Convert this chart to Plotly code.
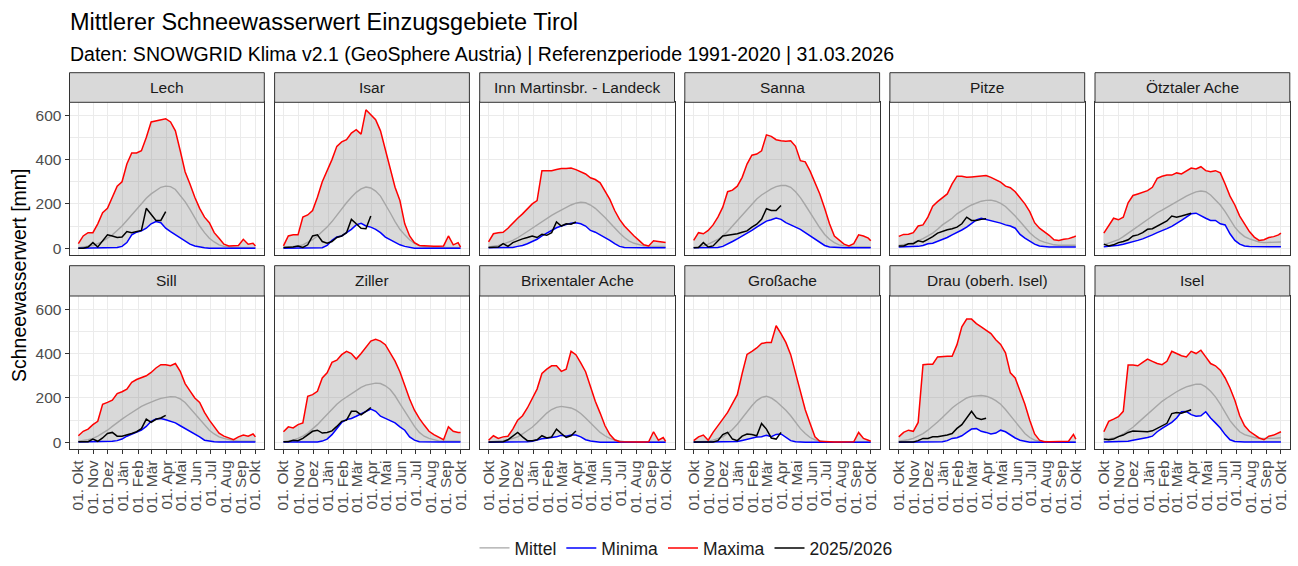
import datetime as dt
import plotly.graph_objects as go

# ---------------- data (mm, sampled every 10 days from 01.10.2025) ----------------
DAYS = list(range(0, 361, 10)) + [365]
CUR_DAYS = list(range(0, 181, 10))
MONTH_LABELS = ["01. Okt", "01. Nov", "01. Dez", "01. Jän", "01. Feb", "01. Mär", "01. Apr",
                "01. Mai", "01. Jun", "01. Jul", "01. Aug", "01. Sep", "01. Okt"]
PANEL_NAMES = ["Lech", "Isar", "Inn Martinsbr. - Landeck", "Sanna", "Pitze", "Ötztaler Ache",
               "Sill", "Ziller", "Brixentaler Ache", "Großache", "Drau (oberh. Isel)", "Isel"]
Y_TICKS = [0, 200, 400, 600]

LECH_MAX = [20,55,70,70,110,160,180,230,280,300,380,430,430,440,500,570,575,580,585,570,530,440,345,290,230,180,140,115,70,45,18,10,10,12,40,18,22,10]
LECH_MEAN = [2,5,8,12,20,30,45,60,80,100,125,150,175,200,225,245,262,275,280,278,265,240,210,175,135,100,70,45,28,15,8,5,3,3,3,3,3,2]
LECH_MIN = [0,0,0,0,0,0,0,0,3,8,25,60,72,78,90,110,120,115,90,75,60,45,30,18,10,5,2,0,0,0,0,0,0,0,0,0,0,0]
LECH_CUR = [0,0,5,25,5,30,60,55,48,50,75,70,75,80,180,155,125,125,165]

ISAR_MAX = [10,55,60,60,140,150,170,230,300,350,400,460,480,490,520,535,515,625,600,580,530,445,365,275,215,110,55,25,12,10,8,8,8,10,55,15,25,5]
ISAR_MEAN = [2,4,6,10,15,25,38,55,75,95,120,150,180,205,230,252,268,276,272,258,235,200,160,120,85,60,38,22,12,6,4,3,3,3,3,3,3,2]
ISAR_MIN = [0,0,0,0,0,0,0,0,2,12,35,50,55,70,85,105,112,100,95,85,70,50,38,25,15,8,3,0,0,0,0,0,0,0,0,0,0,0]
ISAR_CUR = [3,3,5,10,3,15,55,60,30,22,30,48,55,70,130,110,90,88,145]

INN_MAX = [28,65,70,72,90,115,135,155,180,200,215,350,350,350,355,360,360,362,355,345,335,318,310,295,260,220,170,130,100,75,55,35,15,10,33,30,28,25]
INN_MEAN = [5,8,12,18,25,35,47,60,75,90,105,120,135,148,160,172,185,195,203,207,205,195,180,160,138,115,90,68,48,32,22,15,10,8,8,8,8,8]
INN_MIN = [2,2,2,2,2,3,8,12,20,30,40,55,68,80,92,100,108,113,115,110,100,80,72,60,50,35,20,8,3,2,2,2,2,2,2,2,2,2]
INN_CUR = [3,3,5,20,8,25,35,42,48,55,48,63,58,70,118,100,110,108,118]

SANNA_MAX = [35,70,65,80,105,140,185,255,262,280,320,380,420,425,440,512,505,490,485,483,485,460,395,390,348,300,245,180,110,55,35,18,10,20,60,55,45,33]
SANNA_MEAN = [3,6,10,18,28,40,55,75,100,125,150,175,200,222,240,256,268,278,283,283,275,255,228,195,160,125,92,62,40,25,15,10,6,5,5,5,5,5]
SANNA_MIN = [2,2,2,2,2,3,8,18,30,42,55,65,80,95,110,122,128,136,130,115,105,95,85,70,55,40,27,12,5,3,2,2,2,2,2,2,2,2]
SANNA_CUR = [2,3,25,5,10,35,55,58,60,65,72,78,95,108,130,178,170,170,193]

PITZE_MAX = [53,62,63,70,100,105,140,190,210,228,245,290,325,325,320,322,325,325,328,320,310,298,280,273,255,230,200,165,115,90,75,58,38,35,40,43,50,55]
PITZE_MEAN = [12,15,20,25,33,43,55,68,85,105,120,135,155,170,183,195,205,212,216,217,212,202,188,168,145,120,95,70,50,35,27,20,15,13,13,13,13,13]
PITZE_MIN = [5,5,5,6,8,12,20,22,30,40,48,60,70,82,95,110,128,135,130,125,120,113,105,100,90,62,45,30,18,10,6,5,5,5,5,5,5,5]
PITZE_CUR = [10,10,20,20,33,28,40,52,68,76,83,88,95,110,140,125,125,130,133]

OETZ_MAX = [68,100,135,128,140,205,238,245,252,260,275,315,325,330,330,340,335,350,362,358,368,350,345,350,340,290,235,195,145,110,75,50,35,38,48,52,60,68]
OETZ_MEAN = [15,22,30,38,52,68,84,100,115,130,145,160,172,185,198,210,222,235,245,254,258,255,240,218,195,165,130,95,70,52,42,35,28,25,25,25,27,28]
OETZ_MIN = [6,8,10,13,18,23,30,35,42,50,60,70,78,88,98,110,125,140,155,158,145,135,125,125,110,105,65,35,18,10,7,6,6,6,6,6,6,6]
OETZ_CUR = [18,10,15,25,30,38,55,60,70,85,88,100,112,123,145,140,145,150,158]

SILL_MAX = [30,50,60,80,95,172,180,190,220,228,240,270,283,290,300,315,335,350,350,345,355,320,265,232,200,180,135,100,72,42,28,20,12,25,33,28,38,25]
SILL_MEAN = [5,8,12,18,28,42,55,72,90,105,120,135,150,162,172,182,190,198,203,206,205,196,180,155,125,100,75,55,38,25,18,12,8,6,6,6,6,6]
SILL_MIN = [2,2,2,2,2,3,3,5,8,15,28,38,45,55,72,95,105,108,102,95,88,75,63,52,40,25,10,5,3,2,2,2,2,2,2,2,2,2]
SILL_CUR = [3,3,3,15,5,20,40,45,28,28,33,40,48,62,105,90,104,110,122]

ZILLER_MAX = [48,70,65,80,88,207,215,230,290,313,360,370,395,410,400,375,400,430,456,464,456,440,400,366,318,258,195,145,108,78,50,35,22,12,70,50,45,45]
ZILLER_MEAN = [3,6,10,18,28,42,60,80,103,127,150,172,190,205,220,235,248,258,264,267,265,255,238,210,175,140,105,72,45,28,18,12,7,5,5,5,5,5]
ZILLER_MIN = [2,2,2,2,2,2,2,2,6,15,35,60,90,103,108,118,128,139,150,140,118,108,98,88,70,55,25,10,3,2,2,2,2,2,2,2,2,2]
ZILLER_CUR = [3,3,10,8,18,35,50,55,42,45,52,72,95,100,140,140,124,140,157]

BRIX_MAX = [10,30,18,25,28,60,100,120,155,200,240,310,330,345,345,320,330,410,395,358,318,252,185,132,75,35,12,3,2,2,2,2,2,3,48,10,22,5]
BRIX_MEAN = [2,3,5,8,12,18,25,38,52,68,88,110,132,148,158,162,160,155,145,130,110,88,65,45,30,18,10,5,3,2,2,2,2,2,2,2,2,2]
BRIX_MIN = [1,1,1,1,1,1,1,1,3,5,12,16,19,22,25,32,28,33,33,25,12,6,3,1,1,1,1,1,1,1,1,1,1,1,1,1,1,1]
BRIX_CUR = [2,2,2,3,12,30,45,25,8,8,12,30,20,25,60,40,22,30,51]

GROSS_MAX = [8,25,33,10,45,78,105,135,175,215,310,396,410,425,445,450,450,525,490,450,395,313,230,147,85,25,5,3,2,2,2,2,2,3,45,18,10,5]
GROSS_MEAN = [2,3,4,6,10,16,25,40,58,82,110,140,165,188,203,208,200,185,165,145,120,90,62,40,22,12,6,3,2,2,2,2,2,2,2,2,2,2]
GROSS_MIN = [1,1,1,1,1,1,1,1,1,4,9,15,20,24,26,32,26,36,38,22,8,3,1,1,1,1,1,1,1,1,1,1,1,1,1,1,1,1]
GROSS_CUR = [2,2,2,2,2,8,35,45,15,8,28,38,36,30,85,60,20,15,45]

DRAU_MAX = [25,45,55,50,90,350,352,352,385,388,388,388,440,520,555,555,535,520,505,490,462,441,403,313,290,232,172,100,38,10,3,3,3,3,3,5,36,15]
DRAU_MEAN = [5,8,12,18,28,40,55,72,92,112,135,155,172,188,200,207,210,211,208,200,188,172,148,120,92,65,40,22,10,5,3,2,2,2,2,2,2,2]
DRAU_MIN = [1,1,1,1,1,1,1,1,1,3,8,18,21,30,45,60,62,50,45,38,42,55,48,33,20,10,4,1,1,1,1,1,1,1,1,1,1,1]
DRAU_CUR = [2,2,2,2,8,18,18,25,26,28,33,40,63,80,108,140,110,103,109]

ISEL_MAX = [48,95,105,116,140,348,348,345,360,375,365,355,350,365,410,400,390,385,410,400,415,385,355,345,325,290,245,190,120,75,50,35,20,12,28,33,42,48]
ISEL_MEAN = [10,15,20,26,38,52,68,88,108,125,145,165,185,200,215,228,240,250,256,262,262,250,230,205,172,135,98,72,48,35,27,22,19,18,18,18,20,21]
ISEL_MIN = [2,2,2,2,3,5,10,13,18,22,28,48,63,75,90,110,138,139,125,118,120,138,110,88,65,35,12,4,2,2,2,2,2,2,2,2,2,2]
ISEL_CUR = [15,12,15,26,33,45,51,51,49,48,52,63,75,86,130,135,131,139,147]

PANELS = [
    (LECH_MIN, LECH_MEAN, LECH_MAX, LECH_CUR),
    (ISAR_MIN, ISAR_MEAN, ISAR_MAX, ISAR_CUR),
    (INN_MIN, INN_MEAN, INN_MAX, INN_CUR),
    (SANNA_MIN, SANNA_MEAN, SANNA_MAX, SANNA_CUR),
    (PITZE_MIN, PITZE_MEAN, PITZE_MAX, PITZE_CUR),
    (OETZ_MIN, OETZ_MEAN, OETZ_MAX, OETZ_CUR),
    (SILL_MIN, SILL_MEAN, SILL_MAX, SILL_CUR),
    (ZILLER_MIN, ZILLER_MEAN, ZILLER_MAX, ZILLER_CUR),
    (BRIX_MIN, BRIX_MEAN, BRIX_MAX, BRIX_CUR),
    (GROSS_MIN, GROSS_MEAN, GROSS_MAX, GROSS_CUR),
    (DRAU_MIN, DRAU_MEAN, DRAU_MAX, DRAU_CUR),
    (ISEL_MIN, ISEL_MEAN, ISEL_MAX, ISEL_CUR),
]

# ---------------- layout geometry ----------------
W, H = 1298, 566
FONT = "Liberation Sans, Arial, sans-serif"
START = dt.datetime(2025, 10, 1)
END = dt.datetime(2026, 10, 1)
PAD = dt.timedelta(days=18.25)
X_RANGE = [(START - PAD).isoformat(), (END + PAD).isoformat()]
Y_RANGE = [-31, 659]
TICK_DATES = [dt.datetime(2025 + (9 + m) // 12, (9 + m) % 12 + 1, 1).isoformat() for m in range(13)]

PX_L0, PW, STEP = 69.5, 194.8, 205.1
ROWS = [(72.7, 102.3, 255.0), (265.7, 296.0, 449.3)]  # strip top, plot top, plot bottom


def fx(p):
    return p / W


def fy(p):
    return 1 - p / H


def to_dates(days):
    return [(START + dt.timedelta(days=d)).isoformat() for d in days]


dates = to_dates(DAYS)
cur_dates = to_dates(CUR_DAYS)

fig = go.Figure()
shapes, annotations = [], []

for i, (name, (mn, me, mx, cur)) in enumerate(zip(PANEL_NAMES, PANELS)):
    r, c = divmod(i, 6)
    k = "" if i == 0 else str(i + 1)
    xa, ya = "x" + k, "y" + k
    first = i == 0
    # ribbon
    fig.add_trace(go.Scatter(x=dates, y=mn, mode="lines", line=dict(width=0, color="rgba(0,0,0,0)"),
                             showlegend=False, hoverinfo="skip", xaxis=xa, yaxis=ya))
    fig.add_trace(go.Scatter(x=dates, y=mx, mode="lines", line=dict(width=0, color="rgba(0,0,0,0)"),
                             fill="tonexty", fillcolor="rgba(140,140,140,0.33)",
                             showlegend=False, hoverinfo="skip", xaxis=xa, yaxis=ya))
    fig.add_trace(go.Scatter(x=dates, y=me, mode="lines", name="Mittel", legendgroup="m",
                             line=dict(color="#A6A6A6", width=1.4), showlegend=first, xaxis=xa, yaxis=ya))
    fig.add_trace(go.Scatter(x=dates, y=mn, mode="lines", name="Minima", legendgroup="n",
                             line=dict(color="#0000FF", width=1.5), showlegend=first, xaxis=xa, yaxis=ya))
    fig.add_trace(go.Scatter(x=dates, y=mx, mode="lines", name="Maxima", legendgroup="x",
                             line=dict(color="#FF0000", width=1.5), showlegend=first, xaxis=xa, yaxis=ya))
    fig.add_trace(go.Scatter(x=cur_dates, y=cur, mode="lines", name="2025/2026", legendgroup="c",
                             line=dict(color="#000000", width=1.5), showlegend=first, xaxis=xa, yaxis=ya))

    strip_top, plot_top, plot_bot = ROWS[r]
    left = PX_L0 + c * STEP
    right = left + PW
    bottom_row = r == 1
    fig.layout["xaxis" + k] = dict(
        domain=[fx(left), fx(right)], anchor=ya, type="date", range=X_RANGE,
        tickvals=TICK_DATES, ticktext=MONTH_LABELS, showticklabels=bottom_row,
        ticks="outside" if bottom_row else "", ticklen=4, tickcolor="#333333", tickwidth=1,
        tickangle=-90, tickfont=dict(family=FONT, size=15.5, color="#4D4D4D"),
        showgrid=True, gridcolor="#EBEBEB", gridwidth=1.2, zeroline=False,
        showline=True, mirror=True, linecolor="#333333", linewidth=1,
    )
    fig.layout["yaxis" + k] = dict(
        domain=[fy(plot_bot), fy(plot_top)], anchor=xa, range=Y_RANGE,
        tickvals=Y_TICKS, showticklabels=(c == 0), ticks="outside" if c == 0 else "",
        ticklen=4, tickcolor="#333333", tickwidth=1,
        tickfont=dict(family=FONT, size=15.5, color="#4D4D4D"),
        showgrid=True, gridcolor="#EBEBEB", gridwidth=1.2, zeroline=False,
        minor=dict(tickvals=[100, 300, 500], showgrid=True, gridcolor="#EBEBEB", gridwidth=1.2),
        showline=True, mirror=True, linecolor="#333333", linewidth=1,
    )
    shapes.append(dict(type="rect", xref="paper", yref="paper",
                       x0=fx(left), x1=fx(right), y0=fy(plot_top), y1=fy(strip_top),
                       fillcolor="#D9D9D9", line=dict(color="#333333", width=1)))
    annotations.append(dict(text=name, xref="paper", yref="paper", showarrow=False,
                            x=fx((left + right) / 2), y=fy((strip_top + plot_top) / 2),
                            xanchor="center", yanchor="middle",
                            font=dict(family=FONT, size=15.5, color="#1A1A1A")))

annotations += [
    dict(text="Mittlerer Schneewasserwert Einzugsgebiete Tirol", xref="paper", yref="paper",
         x=fx(68), y=fy(22.5), xanchor="left", yanchor="middle", showarrow=False,
         font=dict(family=FONT, size=23.5, color="#000000")),
    dict(text="Daten: SNOWGRID Klima v2.1 (GeoSphere Austria) | Referenzperiode 1991-2020 | 31.03.2026",
         xref="paper", yref="paper", x=fx(68), y=fy(53.5), xanchor="left", yanchor="middle",
         showarrow=False, font=dict(family=FONT, size=19.5, color="#000000")),
    dict(text="Schneewasserwert [mm]", xref="paper", yref="paper", x=fx(19), y=fy(276),
         xanchor="center", yanchor="middle", textangle=-90, showarrow=False,
         font=dict(family=FONT, size=19.5, color="#000000")),
]

fig.update_layout(
    width=W, height=H, autosize=False,
    margin=dict(l=0, r=0, t=0, b=0, autoexpand=False),
    paper_bgcolor="white", plot_bgcolor="white",
    shapes=shapes, annotations=annotations,
    showlegend=True,
    legend=dict(orientation="h", xref="container", yref="container",
                x=fx(686), y=0.0, xanchor="center", yanchor="bottom",
                font=dict(family=FONT, size=17.5, color="#1A1A1A"), itemwidth=30,
                bgcolor="rgba(0,0,0,0)"),
    hovermode=False,
)

fig.write_html("out.html", config={"displayModeBar": False},
               post_script="document.body.style.margin='0';document.body.style.overflow='hidden';")
